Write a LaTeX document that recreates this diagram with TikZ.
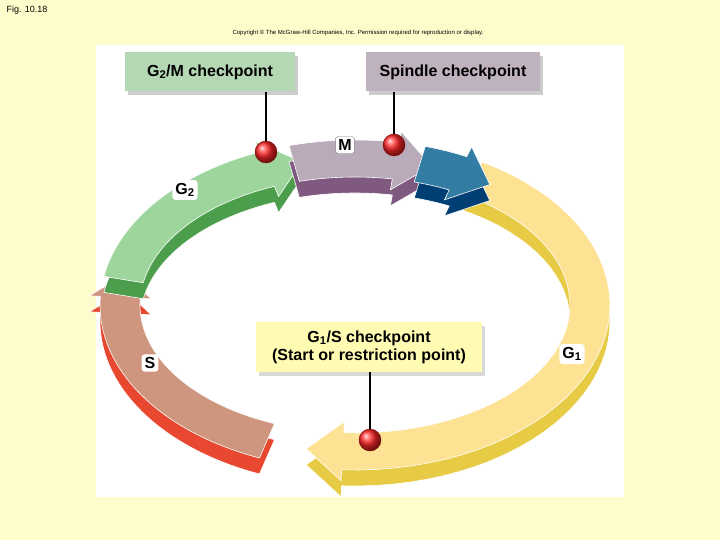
\documentclass[tikz,border=0pt]{standalone}
\usepackage{fontspec}
\setmainfont{Liberation Sans}
\begin{document}
\begin{tikzpicture}[x=1pt,y=-1pt,
 cbox/.style={draw=none,minimum height=39pt,font=\bfseries\fontsize{16}{18}\selectfont},
 ball/.style={circle,inner sep=0pt,minimum size=22pt,draw=red!50!black,shading=ball,ball color=red!85!white},
 stick/.style={line width=2pt,black},
 tag/.style={fill=white,rounded corners=3pt,font=\bfseries\fontsize{16}{18}\selectfont,inner sep=3pt}]
\fill[yellow!20!white] (0,0) rectangle (720,540);
\useasboundingbox (0,0) rectangle (720,540);
\fill[white] (96,45) rectangle (624,497);
\node[font=\fontsize{9}{10}\selectfont,anchor=west] (fig) at (3,10) {Fig. 10.18};
\node[font=\fontsize{6}{7}\selectfont] (copy) at (358,33) {Copyright © The McGraw-Hill Companies, Inc. Permission required for reproduction or display.};
\def\cx{355}\def\cy{305}
\newcommand\seg[5]{% dark, light, a, b, depth
 \foreach \dy/\col in {#5/#1,0/#2}{
 \fill[\col,draw=white,line width=0.6pt] plot[domain=#3:#4,variable=\t,samples=40] ({\cx+255*cos(\t)},{\cy+\dy+165*sin(\t)})
 -- ({\cx+266*cos(#4)},{\cy+\dy+176*sin(#4)})
 -- ({\cx+235*cos(#4+9)},{\cy+\dy+147*sin(#4+9)})
 -- ({\cx+204*cos(#4)},{\cy+\dy+117*sin(#4)})
 -- plot[domain=#4:#3,variable=\t,samples=40] ({\cx+215*cos(\t)},{\cy+\dy+128*sin(\t)})
 -- cycle;}}
\seg{yellow!55!brown!90!white}{yellow!50!orange!40!white}{300}{453}{16}
\seg{red!60!brown!90!white}{red!40!orange!45!gray!70!white}{112}{183}{16}
\seg{green!45!black!70!white}{green!40!gray!55!white}{190}{248}{16}
\seg{violet!30!gray}{violet!20!gray!55!white}{255}{280}{16}
\seg{blue!45!cyan!45!black}{blue!35!cyan!55!black!80!white}{286}{296}{16}
\node[cbox,fill=gray!40,minimum width=170pt] at (213,76) {};
\node[cbox,fill=green!30!gray!45!white,minimum width=170pt] (g2m) at (210,72) {G\textsubscript{2}/M checkpoint};
\node[cbox,fill=gray!40,minimum width=174pt] at (456,76) {};
\node[cbox,fill=violet!20!gray!50!white,minimum width=174pt] (spc) at (453,72) {Spindle checkpoint};
\node[cbox,fill=gray!30,minimum width=226pt,minimum height=50pt] at (372,351) {};
\node[cbox,fill=yellow!30!white,minimum width=226pt,minimum height=50pt,align=center] (g1s) at (369,347) {G\textsubscript{1}/S checkpoint\\(Start or restriction point)};
\node[ball] (b1) at (266,152) {};
\node[ball] (b2) at (394,145) {};
\node[ball] (b3) at (370,440) {};
\draw[stick] (g2m.south -| b1) -- (b1);
\draw[stick] (spc.south -| b2) -- (b2);
\draw[stick] (g1s.south -| b3) -- (b3);
\node[tag,draw=gray] (m) at (345,145) {M};
\node[tag] (g2) at (185,190) {G\textsubscript{2}};
\node[tag] (s) at (150,363) {S};
\node[tag] (g1) at (572,354) {G\textsubscript{1}};
\end{tikzpicture}
\end{document}
